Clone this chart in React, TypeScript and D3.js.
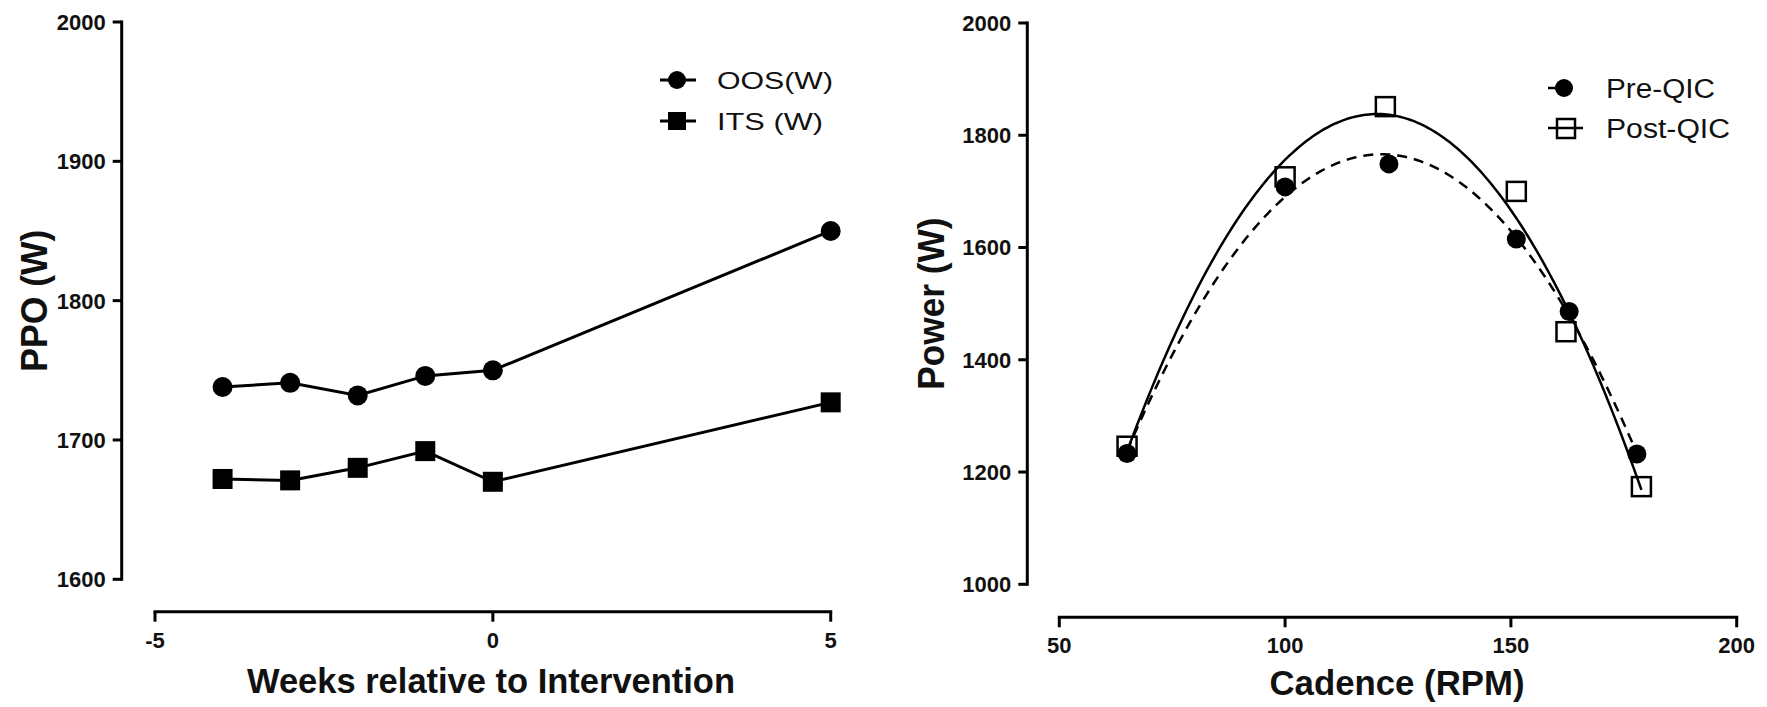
import React from "react";
import * as d3 from "d3";

// ---------- Left panel data ----------
const weeks = [-4, -3, -2, -1, 0, 5];
const oosW = [1738, 1741, 1732, 1746, 1750, 1850];
const itsW = [1672, 1671, 1680, 1692, 1670, 1727];
const leftYTicks = [1600, 1700, 1800, 1900, 2000];
const leftXTicks = [-5, 0, 5];

// ---------- Right panel data ----------
const preCadence = [65, 100, 123, 151.2, 162.9, 177.9];
const prePower = [1233, 1708, 1749, 1615, 1486, 1232];
const postCadence = [65, 100, 122.2, 151.2, 162.2, 178.9];
const postPower = [1246, 1726, 1851, 1700, 1450, 1174];
const rightYTicks = [1000, 1200, 1400, 1600, 1800, 2000];
const rightXTicks = [50, 100, 150, 200];

const FONT = "'Liberation Sans', Arial, sans-serif";

// least-squares quadratic fit y = a + b x + c x^2
function quadFit(xs: number[], ys: number[]) {
  const n = xs.length;
  const m = d3.mean(xs) as number;
  const u = xs.map((x) => x - m);
  let s1 = 0, s2 = 0, s3 = 0, s4 = 0, t0 = 0, t1 = 0, t2 = 0;
  for (let i = 0; i < n; i++) {
    const x = u[i], y = ys[i];
    s1 += x; s2 += x * x; s3 += x * x * x; s4 += x * x * x * x;
    t0 += y; t1 += x * y; t2 += x * x * y;
  }
  const A = [
    [n, s1, s2, t0],
    [s1, s2, s3, t1],
    [s2, s3, s4, t2],
  ];
  for (let i = 0; i < 3; i++) {
    for (let k = i + 1; k < 3; k++) {
      const f = A[k][i] / A[i][i];
      for (let j = i; j < 4; j++) A[k][j] -= f * A[i][j];
    }
  }
  const c = [0, 0, 0];
  for (let i = 2; i >= 0; i--) {
    let s = A[i][3];
    for (let j = i + 1; j < 3; j++) s -= A[i][j] * c[j];
    c[i] = s / A[i][i];
  }
  return (x: number) => c[0] + c[1] * (x - m) + c[2] * (x - m) * (x - m);
}

export default function App() {
  // Left scales
  const lx = d3.scaleLinear().domain([-5, 5]).range([155, 830.7]);
  const ly = d3.scaleLinear().domain([1600, 2000]).range([579.3, 22]);
  const lAxisX = 121.7;
  const lAxisY = 611.7;

  // Right scales
  const rx = d3.scaleLinear().domain([50, 200]).range([1059.3, 1736.7]);
  const ry = d3.scaleLinear().domain([1000, 2000]).range([584.3, 23]);
  const rAxisX = 1027.3;
  const rAxisY = 617.3;

  const leftLine = d3
    .line<number>()
    .x((_, i) => lx(weeks[i]))
    .y((d) => ly(d));

  const preFit = quadFit(preCadence, prePower);
  const postFit = quadFit(postCadence, postPower);
  const preDom = d3.extent(preCadence) as [number, number];
  const postDom = d3.extent(postCadence) as [number, number];
  const samples = (dom: [number, number]) => d3.range(0, 201).map((i) => dom[0] + ((dom[1] - dom[0]) * i) / 200);
  const curve = (fn: (x: number) => number) =>
    d3
      .line<number>()
      .x((x) => rx(x))
      .y((x) => ry(fn(x)));

  const tickStyle = { fontFamily: FONT, fontWeight: 700, fontSize: 22, fill: "#111" } as const;
  const titleStyle = { fontFamily: FONT, fontWeight: 700, fill: "#111" } as const;

  return (
    <svg
      width={1767}
      height={707}
      style={{ position: "absolute", left: 0, top: 0, display: "block", background: "#fff" }}
    >
      <rect x={0} y={0} width={1767} height={707} fill="#fff" />

      {/* ---------- LEFT PANEL ---------- */}
      <g stroke="#000" strokeWidth={3} fill="none">
        <line x1={lAxisX} x2={lAxisX} y1={ly(2000) - 1.5} y2={ly(1600) + 1.5} />
        {leftYTicks.map((t) => (
          <line key={t} x1={lAxisX - 9} x2={lAxisX} y1={ly(t)} y2={ly(t)} />
        ))}
        <line x1={lx(-5) - 1.5} x2={lx(5) + 1.5} y1={lAxisY} y2={lAxisY} />
        {leftXTicks.map((t) => (
          <line key={t} x1={lx(t)} x2={lx(t)} y1={lAxisY} y2={lAxisY + 10} />
        ))}
      </g>
      {leftYTicks.map((t) => (
        <text key={t} x={lAxisX - 16} y={ly(t)} dy="0.36em" textAnchor="end" {...tickStyle}>
          {t}
        </text>
      ))}
      {leftXTicks.map((t) => (
        <text key={t} x={lx(t)} y={lAxisY + 36} textAnchor="middle" {...tickStyle}>
          {t}
        </text>
      ))}

      <path d={leftLine(oosW) || ""} fill="none" stroke="#000" strokeWidth={3} />
      <path d={leftLine(itsW) || ""} fill="none" stroke="#000" strokeWidth={3} />
      {oosW.map((v, i) => (
        <circle key={i} cx={lx(weeks[i])} cy={ly(v)} r={10} fill="#000" />
      ))}
      {itsW.map((v, i) => (
        <rect key={i} x={lx(weeks[i]) - 10} y={ly(v) - 10} width={20} height={20} fill="#000" />
      ))}

      {/* left legend */}
      <g>
        <line x1={660} x2={696} y1={80} y2={80} stroke="#000" strokeWidth={3} />
        <circle cx={677} cy={80} r={9} fill="#000" />
        <text x={717} y={80} dy="0.36em" fontFamily={FONT} fontSize={24} fill="#111" textLength={116} lengthAdjust="spacingAndGlyphs">
          OOS(W)
        </text>
        <line x1={660} x2={696} y1={121} y2={121} stroke="#000" strokeWidth={3} />
        <rect x={668} y={112} width={18} height={18} fill="#000" />
        <text x={717} y={121} dy="0.36em" fontFamily={FONT} fontSize={24} fill="#111" textLength={106} lengthAdjust="spacingAndGlyphs">
          ITS (W)
        </text>
      </g>

      {/* left titles */}
      <text
        transform={`translate(47, ${(ly(1600) + ly(2000)) / 2}) rotate(-90)`}
        textAnchor="middle"
        fontSize={37}
        {...titleStyle}
        textLength={142}
        lengthAdjust="spacingAndGlyphs"
      >
        PPO (W)
      </text>
      <text x={491} y={693} textAnchor="middle" fontSize={35} {...titleStyle} textLength={488} lengthAdjust="spacingAndGlyphs">
        Weeks relative to Intervention
      </text>

      {/* ---------- RIGHT PANEL ---------- */}
      <g stroke="#000" strokeWidth={3} fill="none">
        <line x1={rAxisX} x2={rAxisX} y1={ry(2000) - 1.5} y2={ry(1000) + 1.5} />
        {rightYTicks.map((t) => (
          <line key={t} x1={rAxisX - 9} x2={rAxisX} y1={ry(t)} y2={ry(t)} />
        ))}
        <line x1={rx(50) - 1.5} x2={rx(200) + 1.5} y1={rAxisY} y2={rAxisY} />
        {rightXTicks.map((t) => (
          <line key={t} x1={rx(t)} x2={rx(t)} y1={rAxisY} y2={rAxisY + 10} />
        ))}
      </g>
      {rightYTicks.map((t) => (
        <text key={t} x={rAxisX - 16} y={ry(t)} dy="0.36em" textAnchor="end" {...tickStyle}>
          {t}
        </text>
      ))}
      {rightXTicks.map((t) => (
        <text key={t} x={rx(t)} y={rAxisY + 36} textAnchor="middle" {...tickStyle}>
          {t}
        </text>
      ))}

      <path d={curve(preFit)(samples(preDom)) || ""} fill="none" stroke="#000" strokeWidth={2.5} strokeDasharray="10,7" />
      <path d={curve(postFit)(samples(postDom)) || ""} fill="none" stroke="#000" strokeWidth={2.5} />
      {prePower.map((v, i) => (
        <circle key={i} cx={rx(preCadence[i])} cy={ry(v)} r={9.5} fill="#000" />
      ))}
      {postPower.map((v, i) => (
        <rect
          key={i}
          x={rx(postCadence[i]) - 9.5}
          y={ry(v) - 9.5}
          width={19}
          height={19}
          fill="none"
          stroke="#000"
          strokeWidth={2.5}
        />
      ))}

      {/* right legend */}
      <g>
        <line x1={1548} x2={1583} y1={88} y2={88} stroke="#000" strokeWidth={2.5} strokeDasharray="12,6,3,20" />
        <circle cx={1564} cy={88} r={9} fill="#000" />
        <text x={1606} y={88} dy="0.36em" fontFamily={FONT} fontSize={27} fill="#111" textLength={109} lengthAdjust="spacingAndGlyphs">
          Pre-QIC
        </text>
        <line x1={1548} x2={1583} y1={128} y2={128} stroke="#000" strokeWidth={2.5} />
        <rect x={1557} y={119} width={18} height={19} fill="none" stroke="#000" strokeWidth={2.5} />
        <text x={1606} y={128} dy="0.36em" fontFamily={FONT} fontSize={27} fill="#111" textLength={124} lengthAdjust="spacingAndGlyphs">
          Post-QIC
        </text>
      </g>

      {/* right titles */}
      <text
        transform={`translate(944, ${(ry(1000) + ry(2000)) / 2}) rotate(-90)`}
        textAnchor="middle"
        fontSize={36}
        {...titleStyle}
        textLength={172}
        lengthAdjust="spacingAndGlyphs"
      >
        Power (W)
      </text>
      <text x={1397} y={695} textAnchor="middle" fontSize={35} {...titleStyle} textLength={255} lengthAdjust="spacingAndGlyphs">
        Cadence (RPM)
      </text>
    </svg>
  );
}
